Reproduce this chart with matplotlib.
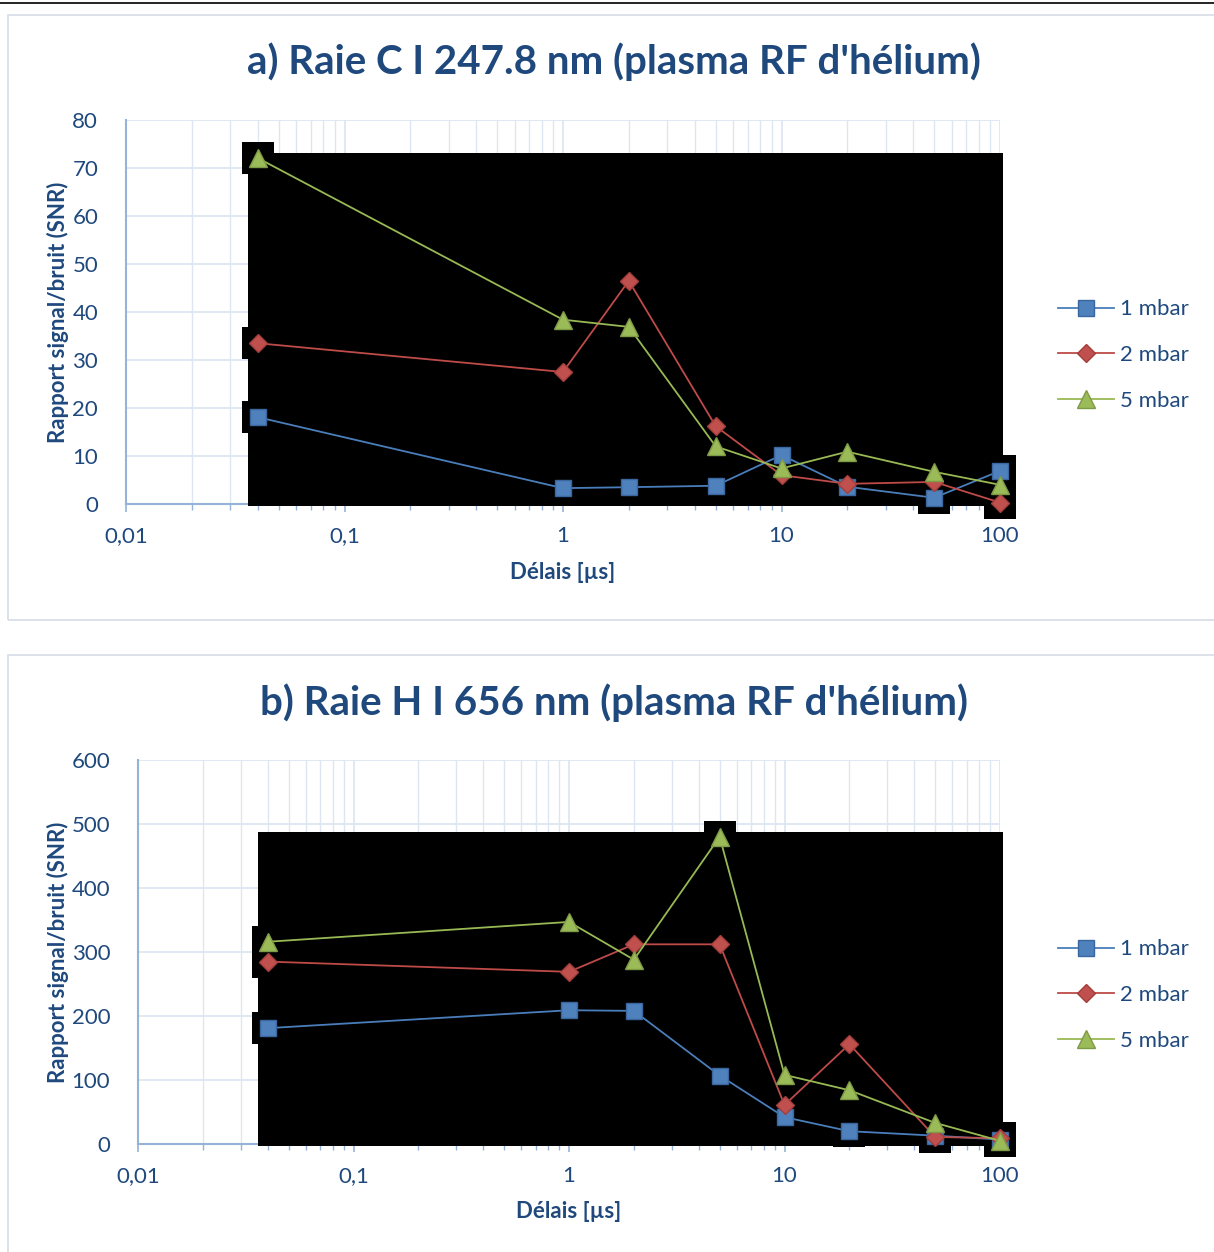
import numpy as np
import matplotlib
matplotlib.use("Agg")
import matplotlib.pyplot as plt
from matplotlib.patches import Rectangle
from matplotlib.lines import Line2D
from matplotlib import ticker

plt.rcParams["font.family"] = ["Lato", "DejaVu Sans"]

# delays in microseconds (same for both panels)
delais = [0.04, 1, 2, 5, 10, 20, 50, 100]
series_names = ["1 mbar", "2 mbar", "5 mbar"]

# a) C I 247.8 nm
snr_c_1 = [18.1, 3.3, 3.5, 3.8, 10.2, 3.6, 1.3, 6.9]
snr_c_2 = [33.5, 27.5, 46.5, 16.2, 6.0, 4.2, 4.6, 0.3]
snr_c_5 = [72.1, 38.4, 36.9, 12.0, 7.4, 10.9, 6.7, 4.0]

# b) H I 656 nm
snr_h_1 = [181, 209, 208, 107, 42, 20, 13, 7]
snr_h_2 = [285, 269, 312, 312, 61, 156, 11, 9]
snr_h_5 = [316, 347, 288, 480, 108, 84, 33, 5]

xtick_vals = [0.01, 0.1, 1, 10, 100]
xtick_labels = ["0,01", "0,1", "1", "10", "100"]

TXT = "#1f497d"
GRID = "#dce6f2"
AXIS = "#95b3d7"
styles = [
    dict(color="#4a7ebb", marker="s", ms=11.5, mfc="#4f81bd", mec="#3a67a0"),
    dict(color="#be4b48", marker="D", ms=9, mfc="#c0504d", mec="#a23e3b"),
    dict(color="#98b954", marker="^", ms=12.5, mfc="#9bbb59", mec="#7f9a45"),
]

W, H = 1214, 1252
fig = plt.figure(figsize=(W / 100, H / 100), dpi=100)


def fx(px):
    return px / W


def fy(py):
    return 1 - py / H


# top rule and chart frames
fig.add_artist(Line2D([0, 1], [fy(3), fy(3)], color="black", lw=1.2))
for top, bot in [(15, 620), (655, 1260)]:
    fig.add_artist(Rectangle((fx(8), fy(bot)), 1.0, fy(top) - fy(bot),
                             fill=False, ec="#d5dce6", lw=1.2))


def panel(rect, series, ymax, ystep, black_top, title, title_y, ylab_x,
          ylab_y, xlab_x, xlab_y, leg_y):
    ax = fig.add_axes(rect)
    ax.set_xscale("log")
    ax.set_xlim(0.01, 100)
    ax.set_ylim(0, ymax)
    ax.set_facecolor("none")
    ax.set_axisbelow(True)
    ax.grid(True, which="major", color=GRID, lw=1.3)
    ax.grid(True, which="minor", axis="x", color=GRID, lw=1.0)
    for s in ["top", "right"]:
        ax.spines[s].set_visible(False)
    for s in ["left", "bottom"]:
        ax.spines[s].set_color(AXIS)
        ax.spines[s].set_linewidth(1.5)
    ax.set_xticks(xtick_vals)
    ax.set_xticklabels(xtick_labels)
    ax.xaxis.set_minor_locator(ticker.LogLocator(base=10, subs=np.arange(2, 10)))
    ax.xaxis.set_minor_formatter(ticker.NullFormatter())
    ax.yaxis.set_major_locator(ticker.MultipleLocator(ystep))
    ax.tick_params(axis="both", which="both", colors=AXIS, labelcolor=TXT,
                   labelsize=16, direction="out")
    ax.tick_params(axis="x", which="major", length=6, width=1.2, pad=10)
    ax.tick_params(axis="x", which="minor", length=4, width=1.0)
    ax.tick_params(axis="y", length=0, pad=20)

    # black area rendered behind the series
    ax.add_patch(Rectangle((0.036, -ymax * 0.005), 103 - 0.036,
                           black_top + ymax * 0.005, fc="black", ec="none",
                           zorder=3, clip_on=False))
    for ys in series:
        ax.plot(delais, ys, ls="none", marker="s", ms=23, mfc="black",
                mec="none", mew=0, zorder=3, clip_on=False)
    handles = []
    for ys, st, name in zip(series, styles, series_names):
        h, = ax.plot(delais, ys, lw=1.3, zorder=5, clip_on=False, label=name,
                     **st)
        handles.append(h)

    fig.text(fx(614), fy(title_y), title, ha="center", va="center",
             fontsize=29, fontweight="bold", color=TXT)
    fig.text(fx(ylab_x), fy(ylab_y), "Rapport signal/bruit (SNR)",
             rotation=90, ha="center", va="center", fontsize=16,
             fontweight="bold", color=TXT)
    fig.text(fx(xlab_x), fy(xlab_y), "Délais [µs]", ha="center",
             va="center", fontsize=16, fontweight="bold", color=TXT)
    leg = fig.legend(handles=handles, loc="center left",
                     bbox_to_anchor=(fx(1058), fy(leg_y)), frameon=False,
                     fontsize=16, handlelength=2.5, handletextpad=0.3,
                     labelspacing=1.15, borderpad=0, borderaxespad=0)
    for t in leg.get_texts():
        t.set_color(TXT)
    return ax


panel([fx(126), fy(504), fx(1000) - fx(126), fy(120) - fy(504)],
      [snr_c_1, snr_c_2, snr_c_5], 80, 10, 73.1,
      "a) Raie C I 247.8 nm (plasma RF d'hélium)", 62, 58, 312, 563, 573,
      355)

panel([fx(138), fy(1144), fx(1000) - fx(138), fy(760) - fy(1144)],
      [snr_h_1, snr_h_2, snr_h_5], 600, 100, 487,
      "b) Raie H I 656 nm (plasma RF d'hélium)", 703, 58, 952, 569, 1212,
      995)

fig.savefig("out.png", dpi=100)
